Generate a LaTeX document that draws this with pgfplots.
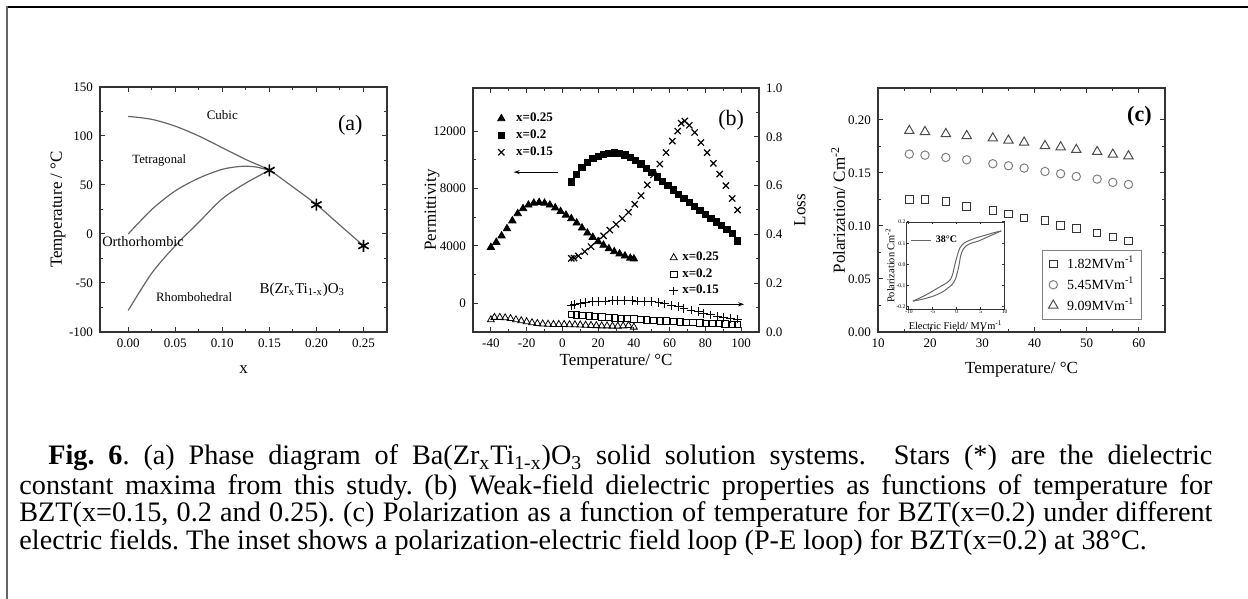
\documentclass[border=0pt]{standalone}
\usepackage{fontspec}
\setmainfont{Liberation Serif}
\usepackage{pgfplots}
\pgfplotsset{compat=1.18}
\usetikzlibrary{arrows.meta}
\definecolor{axgray}{HTML}{333333}
\definecolor{curvegray}{HTML}{666666}
\newcommand\capfs{\fontsize{14.1}{15}\selectfont\frenchspacing}
\pgfplotsset{
  myaxis/.style={
    scale only axis, anchor=south west,
    axis line style={axgray, line width=0.6pt},
    every tick/.style={axgray, line width=0.5pt},
    major tick length=2.5pt, minor tick length=1.3pt,
    tick align=inside,
    /pgf/number format/assume math mode=true,
    /pgf/number format/1000 sep={},
    tick label style={font=\fontsize{6.5}{7}\selectfont, text=black},
    label style={font=\fontsize{8.5}{10}\selectfont},
    clip=false,
  }
}
\begin{document}
\begin{tikzpicture}
\path[use as bounding box] (0,0) rectangle (624pt,299.5pt);
\draw[black, line width=1pt] (3pt,296pt) -- (624pt,296pt);
\draw[black!60, line width=1.2pt] (3.5pt,296.5pt) -- (3.5pt,0);

% ---------------- (a)
\begin{axis}[myaxis, at={(50pt,133.5pt)}, width=143.5pt, height=122.5pt,
  xmin=-0.03, xmax=0.275, ymin=-100, ymax=150,
  xtick={0,0.05,0.1,0.15,0.2,0.25}, minor x tick num=1,
  ytick={-100,-50,0,50,100,150}, minor y tick num=1,
  xticklabel style={/pgf/number format/.cd, fixed, fixed zerofill, precision=2},
  xlabel={x}, ylabel={Temperature / °C},
  xlabel style={at={(axis description cs:0.5,-0.155)}, anchor=center},
  ylabel style={at={(axis description cs:-0.146,0.5)}, anchor=center},
]
\addplot[smooth, curvegray, line width=0.6pt] coordinates {(0,120)(0.025,117)(0.05,110)(0.075,100)(0.1,88)(0.125,76)(0.15,65)(0.175,48)(0.2,30)(0.225,9)(0.25,-12)};
\addplot[smooth, curvegray, line width=0.6pt] coordinates {(0,0)(0.025,25)(0.05,44)(0.075,57)(0.1,66)(0.12,69)(0.135,68.5)(0.15,65)};
\addplot[smooth, curvegray, line width=0.6pt] coordinates {(0,-78)(0.025,-40)(0.05,-12)(0.075,12)(0.1,36)(0.125,52)(0.15,65)};
\addplot[only marks, mark=asterisk, mark size=3pt, line width=0.8pt, black] coordinates {(0.15,65)(0.2,30)(0.25,-12)};
\node[font=\fontsize{6.5}{7}\selectfont] at (axis cs:0.1,121) {Cubic};
\node[font=\fontsize{11}{12}\selectfont] at (axis cs:0.236,111) {(a)};
\node[font=\fontsize{6.3}{7}\selectfont] at (axis cs:0.033,75.5) {Tetragonal};
\node[font=\fontsize{7.2}{8}\selectfont, anchor=west, inner sep=0pt] at (axis cs:-0.028,-8) {Orthorhombic};
\node[font=\fontsize{6.4}{7}\selectfont] at (axis cs:0.07,-64) {Rhombohedral};
\node[font=\fontsize{7.5}{8}\selectfont] at (axis cs:0.185,-57) {B(Zr\textsubscript{x}Ti\textsubscript{1-x})O\textsubscript{3}};
\end{axis}

% ---------------- (b) left
\begin{axis}[myaxis, at={(236.5pt,133.5pt)}, width=143pt, height=122pt,
  xmin=-50, xmax=110, ymin=-2000, ymax=15000,
  xtick={-40,-20,0,20,40,60,80,100}, minor x tick num=1,
  ytick={0,4000,8000,12000}, minor y tick num=1, ytick pos=left,
  scaled y ticks=false,
  xlabel={Temperature/ °C}, ylabel={Permittivity},
  xlabel style={at={(axis description cs:0.5,-0.12)}, anchor=center},
  ylabel style={at={(axis description cs:-0.143,0.5)}, anchor=center},
  legend style={draw=none, fill=none, at={(0.085,0.905)}, anchor=north west,
    font=\bfseries\fontsize{6.5}{7}\selectfont, row sep=1.4pt, inner sep=0pt,
    nodes={inner sep=0.6pt},
    /tikz/every odd column/.append style={column sep=5pt}},
  legend cell align=left,
]
\addplot[only marks, mark=triangle*, mark size=2.1pt, black] coordinates {(-40,3900)(-37,4250)(-34,4700)(-31,5200)(-28,5750)(-25,6250)(-22,6600)(-19,6850)(-16,6980)(-13,7030)(-10,6980)(-7,6850)(-4,6650)(-1,6400)(2,6150)(5,5900)(8,5600)(11,5250)(14,4900)(17,4600)(20,4300)(23,4050)(26,3800)(29,3600)(32,3450)(35,3300)(38,3150)(40,3100)};
\addplot[only marks, mark=square*, mark size=1.6pt, black] coordinates {(5,8450)(8,9000)(11,9450)(14,9800)(17,10080)(20,10250)(23,10390)(26,10460)(29,10480)(32,10430)(35,10340)(38,10180)(41,9970)(44,9700)(47,9400)(50,9100)(53,8800)(56,8500)(59,8200)(62,7900)(65,7600)(68,7300)(71,7030)(74,6750)(77,6470)(80,6200)(83,5930)(86,5680)(89,5410)(92,5150)(95,4850)(98,4350)};
\addplot[only marks, mark=x, mark size=2.2pt, line width=0.6pt, black] coordinates {(5,3130)(6.5,3150)(9,3300)(12.5,3600)(16,3950)(19.5,4350)(23,4700)(26.5,5100)(30,5500)(33.5,5900)(37,6350)(40.5,6900)(44,7500)(47.5,8250)(51,8950)(54.5,9700)(58,10500)(61.5,11300)(64.5,12000)(66.5,12550)(68.5,12700)(71,12400)(74,11900)(77.5,11200)(81,10500)(84.5,9750)(88,9000)(91.5,8200)(95,7300)(98,6500)};
\legend{x=0.25, x=0.2, x=0.15}
\draw[-{Stealth[length=3pt,width=2pt]}, black, line width=0.5pt] (axis cs:-2.2,9140) -- (axis cs:-27.2,9140);
\draw[-{Stealth[length=3pt,width=2pt]}, black, line width=0.5pt] (axis cs:76.7,-70) -- (axis cs:101.7,-70);
\node[font=\fontsize{11}{12}\selectfont] at (axis cs:94.4,12768) {(b)};
\end{axis}

% ---------------- (b) right
\begin{axis}[myaxis, at={(236.5pt,133.5pt)}, width=143pt, height=122pt,
  xmin=-50, xmax=110, ymin=0, ymax=1,
  hide x axis, axis y line*=right,
  ytick={0,0.2,0.4,0.6,0.8,1}, minor y tick num=1,
  yticklabel style={/pgf/number format/.cd, fixed, fixed zerofill, precision=1},
  ylabel={Loss},
  ylabel style={at={(axis description cs:1.143,0.5)}, anchor=center},
  legend style={draw=none, fill=none, at={(0.685,0.335)}, anchor=north west,
    font=\bfseries\fontsize{6.5}{7}\selectfont, row sep=1.3pt, inner sep=0pt,
    nodes={inner sep=0.6pt},
    /tikz/every odd column/.append style={column sep=1.5pt}},
  legend cell align=left,
]
\addplot[only marks, mark=triangle, mark size=2pt, line width=0.4pt, black] coordinates {(-40,0.05)(-38,0.06)(-35,0.06)(-32,0.058)(-29,0.055)(-26,0.05)(-23,0.046)(-20,0.042)(-17,0.038)(-14,0.035)(-11,0.033)(-8,0.032)(-5,0.031)(-2,0.031)(1,0.031)(4,0.03)(7,0.03)(10,0.029)(13,0.028)(16,0.027)(19,0.026)(22,0.025)(25,0.025)(28,0.024)(31,0.024)(34,0.025)(37,0.027)(40,0.02)};
\addplot[only marks, mark=square, mark size=1.6pt, line width=0.4pt, black] coordinates {(5,0.072)(8,0.07)(11,0.068)(15,0.066)(18,0.064)(22,0.062)(26,0.06)(29,0.058)(33,0.056)(36,0.055)(40,0.053)(44,0.051)(47,0.05)(51,0.048)(55,0.046)(58,0.045)(62,0.043)(66,0.042)(69,0.04)(73,0.039)(77,0.038)(80,0.036)(84,0.035)(88,0.034)(91,0.033)(95,0.032)(98,0.031)};
\addplot[only marks, mark=+, mark size=2.2pt, line width=0.5pt, black] coordinates {(5,0.11)(7,0.112)(10,0.118)(13,0.122)(17,0.125)(20,0.126)(24,0.127)(28,0.128)(31,0.128)(35,0.128)(39,0.128)(42,0.127)(46,0.126)(50,0.124)(54,0.12)(57,0.115)(61,0.11)(65,0.104)(68,0.097)(72,0.09)(76,0.083)(79,0.077)(83,0.07)(87,0.064)(90,0.06)(94,0.056)(98,0.053)};
\legend{x=0.25, x=0.2, x=0.15}
\end{axis}

% ---------------- (c)
\begin{axis}[myaxis, at={(439pt,133.5pt)}, width=143.5pt, height=122pt,
  xmin=10, xmax=65, ymin=0, ymax=0.23,
  xtick={10,20,30,40,50,60}, minor x tick num=1,
  ytick={0,0.05,0.1,0.15,0.2}, minor y tick num=1,
  yticklabel style={/pgf/number format/.cd, fixed, fixed zerofill, precision=2},
  xlabel={Temperature/ °C}, ylabel={Polarization/ Cm\textsuperscript{-2}},
  xlabel style={at={(axis description cs:0.5,-0.156)}, anchor=center},
  ylabel style={at={(axis description cs:-0.139,0.5)}, anchor=center},
  legend style={at={(0.92,0.05)}, anchor=south east, draw=gray, line width=0.4pt,
    font=\fontsize{7}{8}\selectfont, row sep=1.3pt, inner xsep=3pt, inner ysep=2.5pt,
    nodes={inner sep=0.6pt},
    /tikz/every odd column/.append style={column sep=4pt}},
  legend cell align=left,
]
\addplot[only marks, mark=square, mark size=1.9pt, line width=0.5pt, black!80] coordinates {(16,0.1247)(19,0.1247)(23,0.1231)(27,0.1184)(32,0.1143)(35,0.1112)(38,0.1074)(42,0.1049)(45,0.1005)(48,0.0973)(52,0.0933)(55,0.0895)(58,0.0857)};
\addplot[only marks, mark=o, mark size=2.1pt, line width=0.5pt, black!50] coordinates {(16,0.1677)(19,0.1667)(23,0.1645)(27,0.1623)(32,0.1586)(35,0.1567)(38,0.1545)(42,0.1513)(45,0.1492)(48,0.1466)(52,0.1441)(55,0.1410)(58,0.1391)};
\addplot[only marks, mark=triangle, mark size=2.7pt, line width=0.5pt, black!70] coordinates {(16,0.1897)(19,0.1887)(23,0.1868)(27,0.1849)(32,0.1827)(35,0.1806)(38,0.1787)(42,0.1755)(45,0.1743)(48,0.1718)(52,0.1699)(55,0.1674)(58,0.1658)};
\legend{1.82MVm\textsuperscript{-1}, 5.45MVm\textsuperscript{-1}, 9.09MVm\textsuperscript{-1}}
\node[font=\bfseries\fontsize{11}{12}\selectfont] at (axis cs:60.1,0.203) {(c)};
\end{axis}

% ---------------- inset
\begin{axis}[myaxis, at={(453.3pt,145pt)}, width=49pt, height=43.5pt,
  xmin=-10.5, xmax=10, ymin=-0.21, ymax=0.2,
  xtick={-10,-5,0,5,10}, ytick={-0.2,-0.1,0,0.1,0.2},
  tick label style={font=\fontsize{2.8}{3}\selectfont, inner sep=0.4pt},
  yticklabel style={/pgf/number format/.cd, fixed, fixed zerofill, precision=1},
  major tick length=1.2pt, axis line style={axgray, line width=0.4pt},
  xlabel={Electric Field/ MVm\textsuperscript{-1}}, ylabel={Polarization Cm\textsuperscript{-2}},
  label style={font=\fontsize{5.2}{5.5}\selectfont, inner sep=0.5pt},
  xlabel style={at={(axis description cs:0.5,-0.19)}, anchor=center},
  ylabel style={at={(axis description cs:-0.17,0.5)}, anchor=center},
  legend style={draw=none, fill=none, at={(0.03,0.9)}, anchor=north west,
    font=\bfseries\fontsize{5}{5.5}\selectfont, inner sep=0.5pt},
  legend image code/.code={\draw[#1] (0pt,0pt) -- (10pt,0pt);},
]
\addplot[smooth, curvegray, line width=0.5pt] coordinates {(-9.2,-0.173)(-7,-0.163)(-5,-0.15)(-3,-0.13)(-1.8,-0.11)(-1,-0.095)(-0.3,-0.07)(0.2,-0.03)(0.5,0.0)(0.8,0.04)(1.3,0.07)(2,0.088)(3,0.1)(4.5,0.11)(6,0.125)(7.5,0.14)(9.3,0.158)};
\addplot[smooth, curvegray, line width=0.5pt, forget plot] coordinates {(9.3,0.158)(7.5,0.148)(6,0.138)(4,0.125)(2.5,0.112)(1.5,0.1)(0.7,0.08)(0.2,0.05)(-0.4,0.0)(-0.8,-0.04)(-1.3,-0.07)(-2.2,-0.088)(-3.5,-0.105)(-5,-0.125)(-7,-0.15)(-9.2,-0.173)};
\legend{38°C}
\end{axis}

% ---------------- caption
\node[anchor=base west, inner sep=0pt] at (9.5pt,67pt) {\capfs\makebox[596.5pt][s]{\hspace*{14.5pt}\textbf{Fig.\ 6}. (a) Phase diagram of Ba(Zr\textsubscript{x}Ti\textsubscript{1-x})O\textsubscript{3} solid solution systems.\ \ Stars (*) are the dielectric}};
\node[anchor=base west, inner sep=0pt] at (9.5pt,52pt) {\capfs\makebox[596.5pt][s]{constant maxima from this study. (b) Weak-field dielectric properties as functions of temperature for}};
\node[anchor=base west, inner sep=0pt] at (9.5pt,38.5pt) {\capfs\makebox[596.5pt][s]{BZT(x=0.15, 0.2 and 0.25). (c) Polarization as a function of temperature for BZT(x=0.2) under different}};
\node[anchor=base west, inner sep=0pt] at (9.5pt,24.5pt) {\capfs electric fields. The inset shows a polarization-electric field loop (P-E loop) for BZT(x=0.2) at 38°C.};
\end{tikzpicture}
\end{document}
